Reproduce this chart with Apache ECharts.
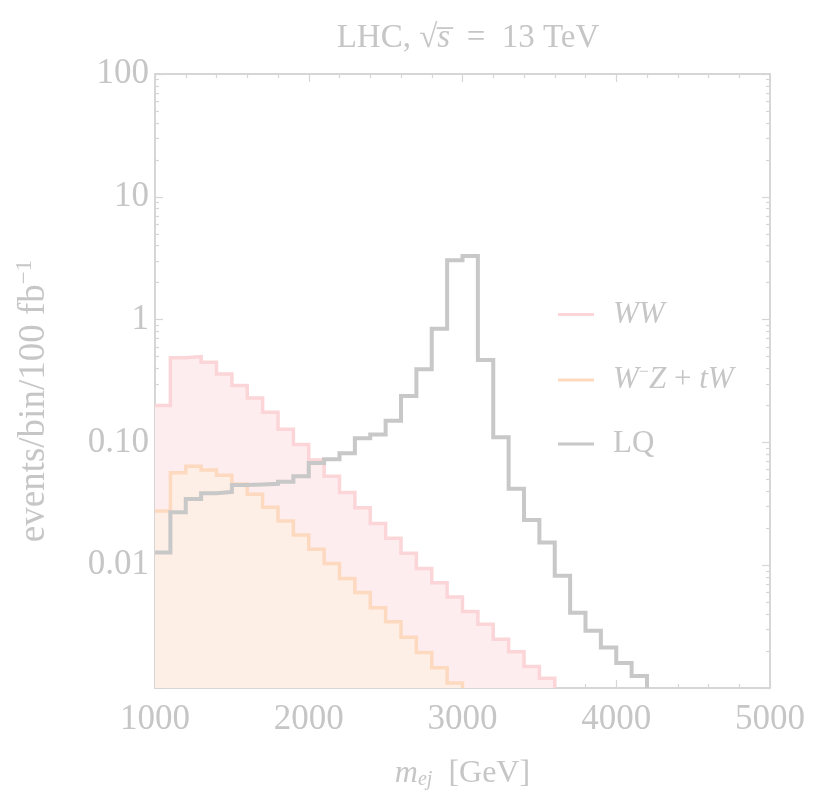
<!DOCTYPE html>
<html>
<head>
<meta charset="utf-8">
<script src="https://cdn.jsdelivr.net/npm/echarts@6/dist/echarts.min.js"></script>
<style>
html,body{margin:0;padding:0;background:#fff;}
#c{width:837px;height:796px;}
</style>
</head>
<body>
<div id="c"></div>
<script>
// Bin lower edges (GeV), 100 GeV bins
const binEdges = [1000,1100,1200,1300,1400,1500,1600,1700,1800,1900,2000,2100,2200,2300,2400,2500,2600,2700,2800,2900,3000,3100,3200,3300,3400,3500,3600,3700,3800,3900,4000,4100,4200];

// events/bin/100 fb^-1
const wwValues = [0.20,0.49,0.50,0.45,0.36,0.29,0.23,0.176,0.128,0.096,0.072,0.053,0.039,0.0294,0.0219,0.0166,0.0125,0.0094,0.0072,0.0055,0.0042,0.0033,0.0025,0.00197,0.0015,0.0012];
const wzValues = [0.0276,0.0566,0.064,0.0596,0.054,0.0458,0.0378,0.0296,0.0229,0.0176,0.0135,0.0103,0.0078,0.0060,0.0045,0.00347,0.00259,0.00195,0.00146,0.0011];
const lqValues = [0.0127,0.027,0.0346,0.0385,0.0395,0.045,0.0455,0.046,0.0478,0.053,0.068,0.073,0.0815,0.108,0.116,0.150,0.239,0.394,0.844,3.05,3.3,0.469,0.11,0.042,0.0233,0.0153,0.0082,0.0041,0.00293,0.00214,0.0016,0.00125];

const seriesNames = ['WW', 'W-Z + tW', 'LQ'];
const xTicks = [1000,2000,3000,4000,5000];
const yTickLabels = {'100':'100','10':'10','1':'1','0.1':'0.10','0.01':'0.01'};
const yMin = 0.001, yMax = 100;
const yMinorTicks = [];
[0.001,0.01,0.1,1,10].forEach(d => { for (let k = 2; k <= 9; k++) yMinorTicks.push(+(d*k).toPrecision(3)); });

function stepData(values) {
  const pts = values.map((v, i) => [binEdges[i], v]);
  pts.push([binEdges[values.length], values[values.length - 1]]);
  pts.push([binEdges[values.length], yMin]);
  return pts;
}

const TXT = '#c6c6c6';
const FRAME = '#d6d6d6';
const FONT = '"Liberation Serif", "DejaVu Serif", serif';
const cPink = '#fbd5d7', cPinkFill = '#fdedef';
const cOrange = '#fdd9bf', cOrangeFill = '#fdeee6';
const cGray = '#c8c8c8';

const chart = echarts.init(document.getElementById('c'), null, {renderer: 'canvas'});

function yLabelFmt(v) {
  for (const k in yTickLabels) { if (Math.abs(v - +k) / +k < 1e-6) return yTickLabels[k]; }
  return '';
}
function xLabelFmt(v) {
  return xTicks.indexOf(v) >= 0 ? String(v) : '';
}

const baseX = {
  type: 'value', min: 1000, max: 5000, interval: 1000,
  axisLine: {show: true, onZero: false, lineStyle: {color: FRAME, width: 2}},
  axisTick: {show: true, inside: true, length: 8, lineStyle: {color: FRAME, width: 1.2}},
  minorTick: {show: true, splitNumber: 5, length: 4, lineStyle: {color: FRAME, width: 1.2}},
  splitLine: {show: false}
};
const baseY = {
  type: 'log', logBase: 10, min: yMin, max: yMax,
  axisLine: {show: true, onZero: false, lineStyle: {color: FRAME, width: 2}},
  axisTick: {show: true, inside: true, length: 8, lineStyle: {color: FRAME, width: 1.2}},
  splitLine: {show: false}
};

const option = {
  backgroundColor: '#fff',
  animation: false,
  title: {
    text: '{n|LHC, √}{i|s\u0305}{n|  =  13 TeV}',
    left: 463, top: 17, textAlign: 'center',
    textStyle: {
      fontWeight: 'normal',
      rich: {
        n: {fontFamily: FONT, fontSize: 33, color: TXT, fontWeight: 'normal'},
        i: {fontFamily: FONT, fontSize: 33, color: TXT, fontStyle: 'italic', fontWeight: 'normal'}
      }
    }
  },
  grid: {left: 155, right: 67, top: 74, bottom: 108, containLabel: false},
  legend: {
    orient: 'vertical', left: 553, top: 294, itemGap: 33,
    itemWidth: 36, itemHeight: 3,
    data: [
      {name: seriesNames[0], icon: 'rect', itemStyle: {color: cPink}},
      {name: seriesNames[1], icon: 'rect', itemStyle: {color: cOrange}},
      {name: seriesNames[2], icon: 'rect', itemStyle: {color: cGray}}
    ],
    formatter: function (name) {
      if (name === seriesNames[0]) return '{i|WW}';
      if (name === seriesNames[1]) return '{i|W}{s|−}{i|Z}{n| + }{i|tW}';
      return '{n|LQ}';
    },
    textStyle: {
      padding: [0, 0, 0, 14],
      rich: {
        i: {fontFamily: FONT, fontSize: 31, color: TXT, fontStyle: 'italic', lineHeight: 34},
        n: {fontFamily: FONT, fontSize: 31, color: TXT, lineHeight: 34},
        s: {fontFamily: FONT, fontSize: 18, color: TXT, verticalAlign: 'top', lineHeight: 18}
      }
    }
  },
  xAxis: [
    Object.assign({}, baseX, {
      position: 'bottom',
      name: '{i|m}{sub|ej}{n|  [GeV]}', nameLocation: 'middle', nameGap: 70,
      nameTextStyle: {
        rich: {
          i: {fontFamily: FONT, fontSize: 32, color: TXT, fontStyle: 'italic'},
          sub: {fontFamily: FONT, fontSize: 20, color: TXT, fontStyle: 'italic', verticalAlign: 'bottom', lineHeight: 10},
          n: {fontFamily: FONT, fontSize: 32, color: TXT}
        }
      },
      axisLabel: {show: true, margin: 14, fontFamily: FONT, fontSize: 35, color: TXT, formatter: xLabelFmt}
    }),
    Object.assign({}, baseX, {position: 'top', axisLabel: {show: false}})
  ],
  yAxis: [
    Object.assign({}, baseY, {
      position: 'left',
      name: '{n|events/bin/100 fb}{s|−1}', nameLocation: 'middle', nameGap: 100,
      nameTextStyle: {
        padding: [0, 40, 0, 0],
        rich: {
          n: {fontFamily: FONT, fontSize: 37, color: TXT, lineHeight: 42},
          s: {fontFamily: FONT, fontSize: 23, color: TXT, verticalAlign: 'top', lineHeight: 23}
        }
      },
      axisLabel: {show: true, margin: 6, fontFamily: FONT, fontSize: 35, color: TXT, formatter: yLabelFmt}
    }),
    Object.assign({}, baseY, {position: 'right', axisLabel: {show: false}}),
    Object.assign({}, baseY, {
      position: 'left', axisLine: {show: false}, axisLabel: {show: false},
      axisTick: {show: true, inside: true, length: 4, customValues: yMinorTicks, lineStyle: {color: FRAME, width: 1.2}}
    }),
    Object.assign({}, baseY, {
      position: 'right', axisLine: {show: false}, axisLabel: {show: false},
      axisTick: {show: true, inside: true, length: 4, customValues: yMinorTicks, lineStyle: {color: FRAME, width: 1.2}}
    })
  ],
  series: [
    {
      name: seriesNames[0], type: 'line', step: 'end', data: stepData(wwValues),
      xAxisIndex: 0, yAxisIndex: 0, showSymbol: false, symbol: 'none', z: 2,
      color: cPink,
      lineStyle: {color: cPink, width: 3.5, join: 'miter'},
      areaStyle: {color: cPinkFill, opacity: 1, origin: 'start'}
    },
    {
      name: seriesNames[1], type: 'line', step: 'end', data: stepData(wzValues),
      xAxisIndex: 0, yAxisIndex: 0, showSymbol: false, symbol: 'none', z: 3,
      color: cOrange,
      lineStyle: {color: cOrange, width: 3.5, join: 'miter'},
      areaStyle: {color: cOrangeFill, opacity: 1, origin: 'start'}
    },
    {
      name: seriesNames[2], type: 'line', step: 'end', data: stepData(lqValues),
      xAxisIndex: 0, yAxisIndex: 0, showSymbol: false, symbol: 'none', z: 4,
      color: cGray,
      lineStyle: {color: cGray, width: 4, join: 'miter'}
    }
  ]
};
chart.setOption(option);
</script>
</body>
</html>
